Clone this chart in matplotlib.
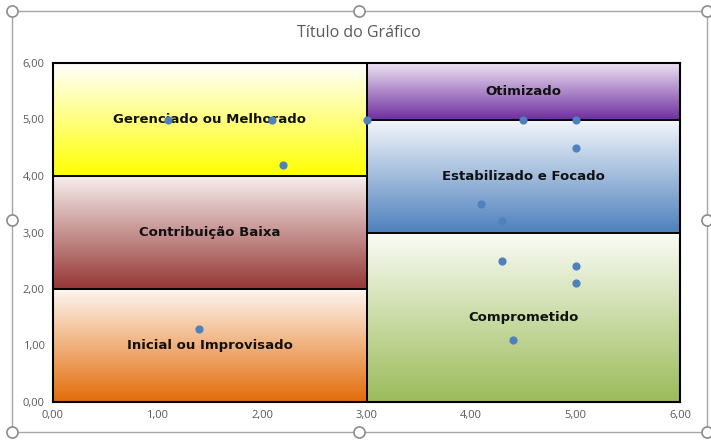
import numpy as np
import matplotlib.pyplot as plt
from matplotlib.colors import to_rgb
from matplotlib.patches import Rectangle
from matplotlib.lines import Line2D
from matplotlib.ticker import FuncFormatter

# pontos da dispersão
x_vals = [1.1, 2.1, 2.2, 3.0, 4.5, 5.0, 5.0, 4.1, 4.3, 4.3, 5.0, 5.0, 4.4, 1.4]
y_vals = [5.0, 5.0, 4.2, 5.0, 5.0, 5.0, 4.5, 3.5, 3.2, 2.5, 2.4, 2.1, 1.1, 1.3]

# quadrantes (nível de maturidade)
nomes = ["Inicial ou Improvisado", "Contribuição Baixa", "Gerenciado ou Melhorado",
         "Comprometido", "Estabilizado e Focado", "Otimizado"]
x0s = [0, 0, 0, 3, 3, 3]
x1s = [3, 3, 3, 6, 6, 6]
y0s = [0, 2, 4, 0, 3, 5]
y1s = [2, 4, 6, 3, 5, 6]
topo = ["#fdf6f0", "#f7eeee", "#ffffff", "#fbfcf7", "#f4f7fb", "#efe6f4"]
base = ["#e36c09", "#953735", "#ffff00", "#9bbb59", "#4f81bd", "#7030a0"]

fig = plt.figure(figsize=(7.11, 4.41), dpi=100)
ax = fig.add_axes([53 / 711, 39 / 441, 627 / 711, 339 / 441])

for nome, a, b, c, d, t, k in zip(nomes, x0s, x1s, y0s, y1s, topo, base):
    n = 200
    f = np.linspace(0, 1, n)[:, None]
    grad = (1 - f) * np.array(to_rgb(t)) + f * np.array(to_rgb(k))
    grad = grad[:, None, :]
    # linha 0 (cor clara) no topo do retângulo
    ax.imshow(grad, extent=(a, b, c, d), origin="upper", aspect="auto",
              interpolation="bilinear", zorder=1)
    ax.add_patch(Rectangle((a, c), b - a, d - c, fill=False, ec="black", lw=1.2, zorder=2))
    ax.text((a + b) / 2, (c + d) / 2, nome, ha="center", va="center",
            fontsize=9.5, fontweight="bold", color="#111111", zorder=3,
            family="DejaVu Sans")

ax.scatter(x_vals, y_vals, s=24, color="#4f81bd", zorder=4, clip_on=False)

ax.set_xlim(0, 6)
ax.set_ylim(0, 6)
ax.set_xticks(range(7))
ax.set_yticks(range(7))
fmt = FuncFormatter(lambda v, p: f"{v:.2f}".replace(".", ","))
ax.xaxis.set_major_formatter(fmt)
ax.yaxis.set_major_formatter(fmt)
ax.tick_params(length=0, labelsize=8, labelcolor="#595959", pad=6)
for lab in ax.get_xticklabels() + ax.get_yticklabels():
    lab.set_family("Open Sans")
for s in ax.spines.values():
    s.set_color("black")
    s.set_linewidth(1.5)

fig.text(359 / 711, 1 - 33 / 441, "Título do Gráfico", ha="center", va="center",
         fontsize=11.5, color="#595959", family="Open Sans")

# moldura de seleção do gráfico
W, H = 711, 441
fig.add_artist(Rectangle((12 / W, 1 - 432 / H), 695 / W, 421 / H, transform=fig.transFigure,
                         fill=False, ec="#a6a6a6", lw=1))
hx = [12, 359, 707, 12, 707, 12, 359, 707]
hy = [11, 11, 11, 220, 220, 432, 432, 432]
fig.add_artist(Line2D([v / W for v in hx], [1 - v / H for v in hy], transform=fig.transFigure,
                      ls="none", marker="o", ms=8, mfc="white", mec="#8c8c8c", mew=1.2))

fig.savefig("out.png", dpi=100)
